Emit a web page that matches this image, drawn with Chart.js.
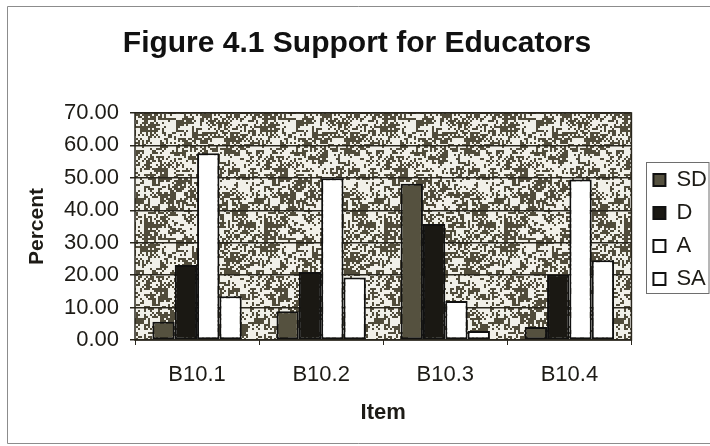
<!DOCTYPE html>
<html>
<head>
<meta charset="utf-8">
<script src="https://cdn.jsdelivr.net/npm/chart.js@4/dist/chart.umd.min.js"></script>
<style>
  html, body { margin: 0; padding: 0; background: #ffffff; }
  #wrap { width: 710px; height: 446px; }
</style>
</head>
<body>
<div id="wrap"><canvas id="chart" width="710" height="446"></canvas></div>
<script>
// Survey items and response shares (percent)
const items = ['B10.1', 'B10.2', 'B10.3', 'B10.4'];
const responseLabels = ['SD', 'D', 'A', 'SA'];
const sdValues = [5.6, 8.9, 48.2, 4.0];
const dValues  = [23.1, 21.0, 35.8, 20.1];
const aValues  = [57.6, 49.9, 12.0, 49.5];
const saValues = [13.5, 19.3, 2.8, 24.6];
const yMin = 0, yMax = 70, yStep = 10;

const FONT = '"Liberation Sans", Arial, Helvetica, sans-serif';
const INK = '#1d1b16';

// Fixed integer hash in [0,1), used to build a repeatable grain texture
function hash01(x, y, seed) {
  let h = (x * 374761393 + y * 668265263 + seed * 982451653) | 0;
  h = Math.imul(h ^ (h >>> 13), 1274126177);
  h = (h ^ (h >>> 16)) >>> 0;
  return (h % 10000) / 10000;
}

// Grainy grey plot fill: fine 2px specks mixed with coarser blotches
function makeGrainTile() {
  const size = 120;
  const c = document.createElement('canvas');
  c.width = size; c.height = size;
  const g = c.getContext('2d');
  g.fillStyle = '#f1f0e9';
  g.fillRect(0, 0, size, size);
  g.fillStyle = '#514c3b';
  for (let y = 0; y < size; y += 2) {
    for (let x = 0; x < size; x += 2) {
      const fine = hash01(x >> 1, y >> 1, 1);
      const coarse = hash01(Math.floor(x / 8), Math.floor(y / 6), 2);
      const v = 0.55 * fine + 0.45 * coarse;
      if (v < 0.49) g.fillRect(x, y, 2, 2);
    }
  }
  return c;
}

// Page frame, plot fill, and legend frame
const decor = {
  id: 'decor',
  beforeDraw(chart) {
    const ctx = chart.ctx;
    const a = chart.chartArea;
    ctx.save();
    ctx.fillStyle = '#ffffff';
    ctx.fillRect(0, 0, chart.width, chart.height);
    ctx.strokeStyle = '#8c8c8c';
    ctx.lineWidth = 1;
    ctx.beginPath();
    ctx.moveTo(chart.width, 6.5);
    ctx.lineTo(7.5, 6.5);
    ctx.lineTo(7.5, 443.5);
    ctx.lineTo(chart.width, 443.5);
    ctx.stroke();
    if (!chart.$grain) chart.$grain = ctx.createPattern(makeGrainTile(), 'repeat');
    ctx.fillStyle = chart.$grain;
    ctx.fillRect(a.left, a.top, a.right - a.left, a.bottom - a.top);
    ctx.restore();
  },
  afterLayout(chart) {
    const lg = chart.legend;
    const dx = chart.chartArea.right + 11 - lg.left;
    lg.left += dx; lg.right += dx;
    lg.top += 3; lg.bottom += 3;
  },
  afterDraw(chart) {
    const ctx = chart.ctx;
    const a = chart.chartArea;
    const lg = chart.legend;
    ctx.save();
    // plot border
    ctx.strokeStyle = '#2a271e';
    ctx.lineWidth = 1.5;
    ctx.strokeRect(a.left, a.top, a.right - a.left, a.bottom - a.top);
    // legend frame
    const x0 = Math.round(lg.left + 4) + 0.5;
    ctx.strokeStyle = '#6e6e6e';
    ctx.lineWidth = 1;
    ctx.strokeRect(x0, 162.5, chart.width - x0 - 1, 131);
    ctx.restore();
  }
};

const barStyle = { borderColor: '#111111', borderWidth: 2, borderSkipped: false };

new Chart(document.getElementById('chart'), {
  type: 'bar',
  data: {
    labels: items,
    datasets: [
      Object.assign({ label: responseLabels[0], data: sdValues, backgroundColor: '#55513f' }, barStyle),
      Object.assign({ label: responseLabels[1], data: dValues,  backgroundColor: '#1a1813' }, barStyle),
      Object.assign({ label: responseLabels[2], data: aValues,  backgroundColor: '#ffffff' }, barStyle),
      Object.assign({ label: responseLabels[3], data: saValues, backgroundColor: '#ffffff' }, barStyle)
    ]
  },
  options: {
    responsive: false,
    animation: false,
    devicePixelRatio: 1,
    layout: { padding: { top: 0, left: 8, right: 4, bottom: 0 } },
    datasets: { bar: { categoryPercentage: 0.72, barPercentage: 1.0 } },
    plugins: {
      title: {
        display: true,
        text: 'Figure 4.1 Support for Educators',
        color: '#111111',
        font: { family: FONT, size: 30, weight: 'bold' },
        padding: { top: 26, bottom: 51 }
      },
      legend: {
        display: true,
        position: 'right',
        fullSize: false,
        labels: {
          color: INK,
          font: { family: FONT, size: 22 },
          boxWidth: 12,
          boxHeight: 12,
          padding: 11,
          useBorderRadius: false
        }
      },
      tooltip: { enabled: false }
    },
    scales: {
      x: {
        grid: { display: true, drawOnChartArea: false, drawTicks: true, tickLength: 5, color: '#2a271e', lineWidth: 1 },
        border: { display: false },
        ticks: { color: INK, font: { family: FONT, size: 22 }, padding: 17 },
        title: { display: true, text: 'Item', color: INK, font: { family: FONT, size: 22, weight: 'bold' }, padding: { top: 8, bottom: 20 } },
        afterFit(scale) { scale.height = 106; }
      },
      y: {
        min: yMin, max: yMax,
        grid: { color: '#2a271e', lineWidth: 1.5, tickLength: 5, drawTicks: true },
        border: { display: false },
        ticks: {
          stepSize: yStep,
          color: INK,
          font: { family: FONT, size: 22 },
          padding: 11,
          callback: v => Number(v).toFixed(2)
        },
        title: { display: true, text: 'Percent', color: INK, font: { family: FONT, size: 21, weight: 'bold' }, padding: { top: 17, bottom: 0 } },
        afterFit(scale) { scale.width = 127; }
      }
    }
  },
  plugins: [decor]
});
</script>
</body>
</html>
